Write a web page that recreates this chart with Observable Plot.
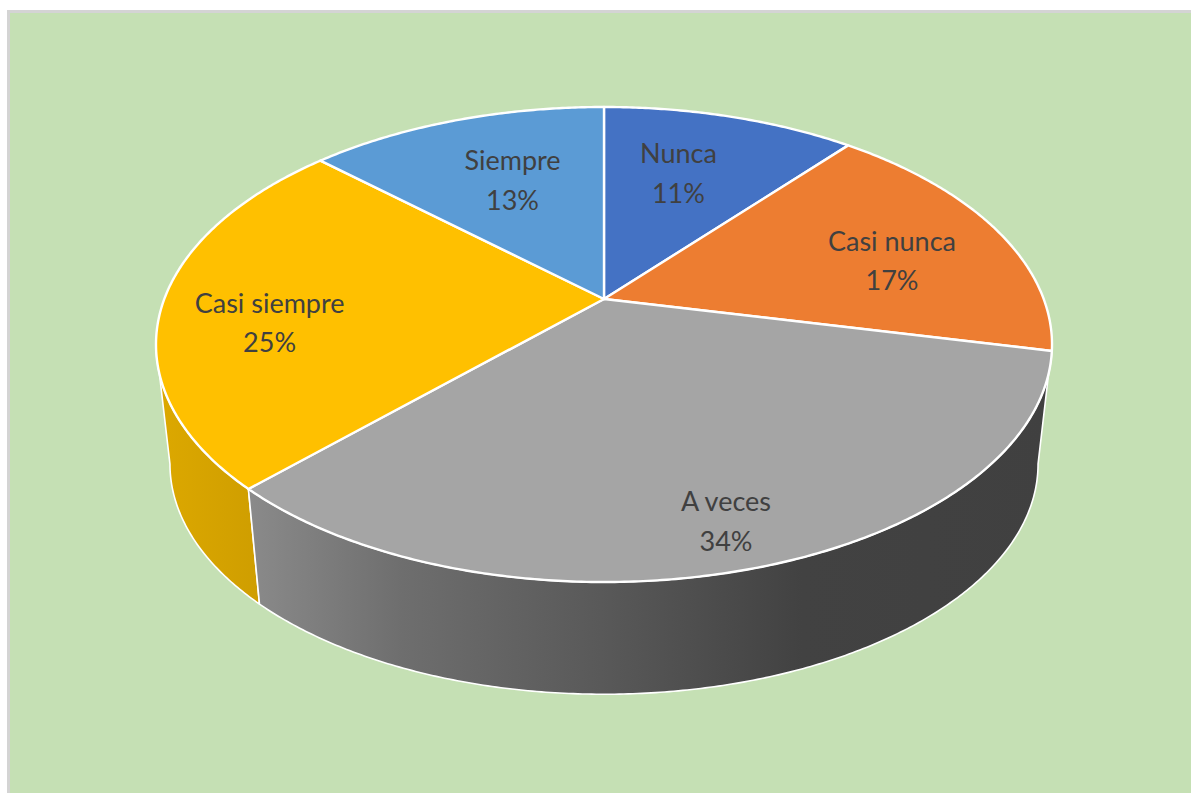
<!DOCTYPE html>
<html><head><meta charset="utf-8">
<script src="https://cdn.jsdelivr.net/npm/d3@7"></script>
<script src="https://cdn.jsdelivr.net/npm/@observablehq/plot@0.6"></script>
<style>html,body{margin:0;padding:0;background:#fff;overflow:hidden}svg{display:block}</style>
</head><body><div id="chart"></div>
<script>
// Data
const categories = ["Nunca", "Casi nunca", "A veces", "Casi siempre", "Siempre"];
const shownPercent = [11, 17, 34, 25, 13];
const sliceShare = [11, 17.49, 33.8, 24.7, 13.01];
const colors = ["#4472c4", "#ed7d31", "#a5a5a5", "#ffc000", "#5b9bd5"];
// Label placement relative to each slice's middle
const labelRadius = [0.66, 0.703, 0.842, 0.754, 0.638];
const labelTurn = [-3.2, 3.4, 0.5, -5.3, 2];

// Perspective disc
const top_ = {cx: 604, cy: 299, rx: 439.7, ry: 228.8, k: 0.1916};
const bottom_ = {cx: 604, cy: 420, rx: 426, ry: 221.7, k: 0.1916};
const project = (g, deg, r = 1) => {
  const a = deg * Math.PI / 180, X = r * Math.sin(a), Y = r * Math.cos(a), p = 1 + g.k * Y;
  return [g.cx + g.rx * X / p, g.cy - g.ry * Y / p];
};
const total = d3.sum(sliceShare);
let acc = 0;
const slices = categories.map((name, i) => {
  const a0 = acc / total * 360; acc += sliceShare[i];
  return {name, a0, a1: acc / total * 360, pct: shownPercent[i], i};
});
const arc = (a0, a1) => d3.range(0, 1.0001, 1 / Math.max(2, Math.ceil((a1 - a0) * 2))).map(t => a0 + (a1 - a0) * t);

const faceRows = slices.flatMap(s => arc(s.a0, s.a1).map(a => {
  const [x, y] = project(top_, a);
  return {name: s.name, x, y, ax: top_.cx, ay: top_.cy};
}));
const sideRows = (a0, a1) => arc(a0, a1).map(a => {
  const [x1, y1] = project(top_, a), [x2, y2] = project(bottom_, a);
  return {x1, y1, x2, y2};
});
const tangent = Math.asin(top_.k) * 180 / Math.PI;
const grey = slices[2], gold = slices[3];
const labelRows = slices.map(s => {
  const [x, y] = project(top_, (s.a0 + s.a1) / 2 + labelTurn[s.i], labelRadius[s.i]);
  return {x, y, text: `${s.name}\n${s.pct}%`};
});

const defs = () => {
  const ns = "http://www.w3.org/2000/svg";
  const d = document.createElementNS(ns, "defs");
  d.innerHTML = `
  <linearGradient id="sideGrey" gradientUnits="userSpaceOnUse" x1="250" x2="1050" y1="0" y2="0">
    <stop offset="0" stop-color="#8a8a8a"/><stop offset="0.19" stop-color="#6e6e6e"/>
    <stop offset="0.45" stop-color="#585858"/><stop offset="0.69" stop-color="#424242"/>
    <stop offset="1" stop-color="#404040"/></linearGradient>
  <linearGradient id="sideGold" gradientUnits="userSpaceOnUse" x1="160" x2="258" y1="0" y2="0">
    <stop offset="0" stop-color="#dca800"/><stop offset="1" stop-color="#cf9e00"/></linearGradient>`;
  return d;
};

const chart = Plot.plot({
  width: 1191, height: 793, margin: 0,
  style: {background: "#fff"},
  x: {domain: [0, 1191], range: [0, 1191], axis: null},
  y: {domain: [0, 793], range: [0, 793], axis: null},
  color: {domain: categories, range: colors},
  marks: [
    defs,
    Plot.rect([{}], {x1: () => 7, x2: () => 1191, y1: () => 10, y2: () => 793, fill: "#d4d4d4"}),
    Plot.rect([{}], {x1: () => 10, x2: () => 1191, y1: () => 13, y2: () => 793, fill: "#c5e0b4"}),
    Plot.area(sideRows(gold.a0, 360 - 90 - tangent), {x1: "x1", y1: "y1", x2: "x2", y2: "y2", fill: "url(#sideGold)", stroke: "#fff", strokeWidth: 1.6}),
    Plot.area(sideRows(90 + tangent, grey.a1), {x1: "x1", y1: "y1", x2: "x2", y2: "y2", fill: "url(#sideGrey)", stroke: "#fff", strokeWidth: 1.6}),
    Plot.area(faceRows, {x1: "ax", y1: "ay", x2: "x", y2: "y", z: "name", fill: "name", stroke: "#fff", strokeWidth: 2.4, strokeLinejoin: "round"}),
    Plot.text(labelRows, {x: "x", y: "y", text: "text", fill: "#404040", fontFamily: "Lato", fontSize: 27, lineHeight: 1.46, textAnchor: "middle", lineAnchor: "middle"})
  ]
});
document.getElementById("chart").append(chart);
</script></body></html>
